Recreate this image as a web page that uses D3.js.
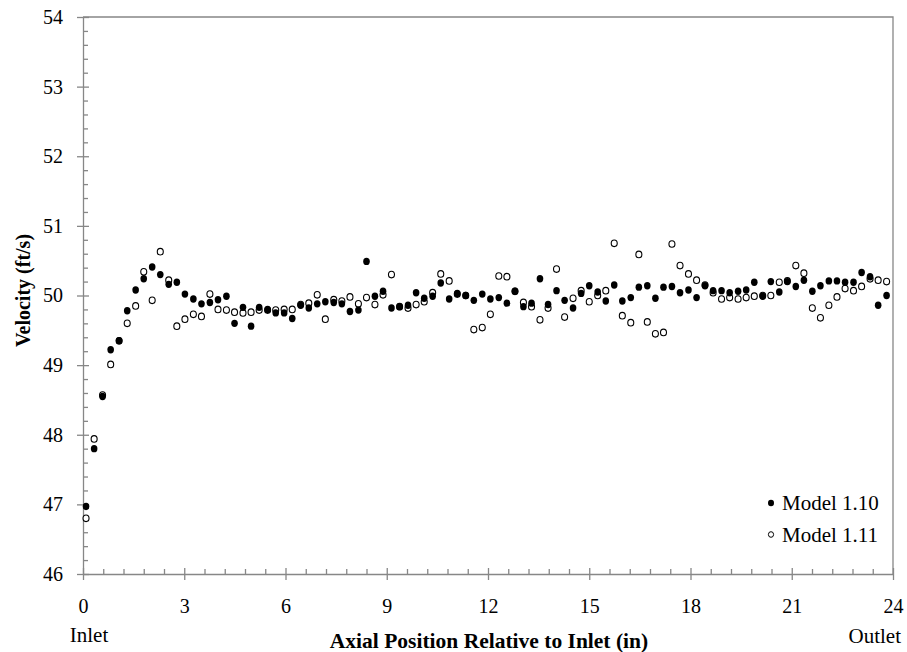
<!DOCTYPE html>
<html><head><meta charset="utf-8">
<script src="https://cdn.jsdelivr.net/npm/d3@7"></script>
<style>
html,body{margin:0;padding:0;background:#fff;}
</style></head>
<body><svg id="c" width="907" height="652"></svg>
<script>
const positions = [0.09,0.33,0.58,0.82,1.07,1.31,1.56,1.80,2.05,2.29,2.54,2.78,3.02,3.27,3.51,3.76,4.00,4.25,4.49,4.74,
4.98,5.22,5.47,5.71,5.96,6.20,6.45,6.69,6.94,7.18,7.43,7.67,7.91,8.16,8.40,8.65,8.89,9.14,9.38,9.63,
9.87,10.11,10.36,10.60,10.85,11.09,11.34,11.58,11.83,12.07,12.32,12.56,12.80,13.05,13.29,13.54,13.78,14.03,14.27,14.52,
14.76,15.00,15.25,15.49,15.74,15.98,16.23,16.47,16.72,16.96,17.20,17.45,17.69,17.94,18.18,18.43,18.67,18.92,19.16,19.41,
19.65,19.89,20.14,20.38,20.63,20.87,21.12,21.36,21.61,21.85,22.10,22.34,22.58,22.83,23.07,23.32,23.56,23.81];
const model110 = [46.97,47.80,48.55,49.22,49.35,49.78,50.08,50.24,50.41,50.30,50.16,50.19,50.02,49.95,49.88,49.90,49.94,49.99,49.60,49.83,
49.56,49.83,49.80,49.75,49.75,49.67,49.86,49.82,49.88,49.91,49.90,49.88,49.77,49.79,50.49,49.99,50.06,49.82,49.84,49.86,
50.04,49.96,49.99,50.18,49.95,50.03,50.00,49.93,50.02,49.95,49.97,49.89,50.06,49.84,49.89,50.24,49.87,50.07,49.93,49.82,
50.03,50.14,50.05,49.92,50.15,49.92,49.97,50.12,50.14,49.96,50.12,50.13,50.04,50.08,49.97,50.14,50.07,50.07,50.04,50.06,
50.08,50.19,49.99,50.20,50.05,50.20,50.13,50.22,50.06,50.14,50.21,50.21,50.19,50.19,50.33,50.27,49.86,50.00];
const model111 = [46.80,47.94,48.57,49.01,49.35,49.60,49.85,50.34,49.93,50.63,50.22,49.56,49.66,49.73,49.70,50.02,49.80,49.79,49.76,49.75,
49.76,49.79,49.79,49.79,49.80,49.80,49.87,49.89,50.01,49.66,49.94,49.92,49.98,49.88,49.97,49.87,50.01,50.30,49.84,49.82,
49.87,49.91,50.04,50.31,50.21,50.02,50.00,49.51,49.54,49.73,50.28,50.27,50.06,49.90,49.84,49.65,49.82,50.38,49.69,49.96,
50.07,49.91,50.00,50.07,50.75,49.71,49.61,50.59,49.62,49.45,49.47,50.74,50.43,50.31,50.22,50.15,50.04,49.95,49.97,49.95,
49.97,49.99,50.00,50.00,50.19,50.21,50.43,50.32,49.82,49.68,49.86,49.98,50.10,50.07,50.13,50.24,50.22,50.20];
const xTicks = [0,3,6,9,12,15,18,21,24];
const yTicks = [46,47,48,49,50,51,52,53,54];
const seriesNames = ["Model 1.10","Model 1.11"];

const FONT = "'Liberation Serif','Times New Roman',Times,serif";
const svg = d3.select("#c");
const L=83,R=893,T=17,B=574;
const x = d3.scaleLinear().domain([0,24]).range([L,R]);
const y = d3.scaleLinear().domain([46,54]).range([B,T]);
const axisCol = "#878787";

svg.append("path").attr("d",`M${L},${T}H${R}V${B}`).attr("fill","none").attr("stroke",axisCol).attr("stroke-width",1.3);

const xMinor = d3.range(0,24.001,0.6).filter(v=>Math.abs(v/3-Math.round(v/3))>1e-6);
const yMinor = d3.range(46,54.001,0.2).filter(v=>Math.abs(v-Math.round(v))>1e-6);
function styleAxis(g){g.selectAll("path,line").attr("stroke",axisCol).attr("stroke-width",1.3);}

svg.append("g").attr("transform",`translate(0,${B})`)
  .call(d3.axisBottom(x).tickValues(xMinor).tickSize(-5).tickSizeOuter(0).tickFormat(""))
  .call(styleAxis).call(g=>g.select(".domain").remove());
svg.append("g").attr("transform",`translate(${L},0)`)
  .call(d3.axisLeft(y).tickValues(yMinor).tickSize(-5).tickSizeOuter(0).tickFormat(""))
  .call(styleAxis).call(g=>g.select(".domain").remove());
svg.append("g").attr("transform",`translate(0,${B})`)
  .call(d3.axisBottom(x).tickValues(xTicks).tickSize(-6).tickSizeOuter(0).tickFormat(""))
  .call(styleAxis).call(g=>g.select(".domain").remove());
svg.append("g").attr("transform",`translate(${L},0)`)
  .call(d3.axisLeft(y).tickValues(yTicks).tickSize(-6).tickSizeOuter(0).tickFormat(""))
  .call(styleAxis).call(g=>g.select(".domain").remove());
svg.append("g").attr("transform",`translate(0,${B})`)
  .call(d3.axisBottom(x).tickValues(xTicks).tickSize(6).tickSizeOuter(0).tickPadding(19).tickFormat(d3.format("d")))
  .call(styleAxis)
  .call(g=>g.selectAll("text").style("font-size","20px").style("font-family",FONT).attr("fill","#000"));
svg.append("g").attr("transform",`translate(${L},0)`)
  .call(d3.axisLeft(y).tickValues(yTicks).tickSize(6).tickSizeOuter(0).tickPadding(14).tickFormat(d3.format("d")))
  .call(styleAxis)
  .call(g=>g.selectAll("text").style("font-size","20px").style("font-family",FONT).attr("fill","#000"));

const d111 = positions.map((p,i)=>({x:p,v:model111[i]}));
const d110 = positions.map((p,i)=>({x:p,v:model110[i]}));
svg.append("g").selectAll("ellipse").data(d111).join("ellipse")
  .attr("cx",d=>x(d.x)).attr("cy",d=>y(d.v)).attr("rx",3).attr("ry",3.3)
  .attr("fill","#fff").attr("stroke","#000").attr("stroke-width",1.1);
svg.append("g").selectAll("ellipse").data(d110).join("ellipse")
  .attr("cx",d=>x(d.x)).attr("cy",d=>y(d.v)).attr("rx",3.3).attr("ry",3.7)
  .attr("fill","#000");

function txt(xp,yp,s,size,anchor,bold){
  return svg.append("text").attr("x",xp).attr("y",yp).attr("text-anchor",anchor||"start")
    .style("font-family",FONT).style("font-size",size+"px").style("font-weight",bold?"bold":"normal")
    .attr("fill","#000").text(s);
}
svg.append("ellipse").attr("cx",771).attr("cy",503).attr("rx",3).attr("ry",3.3).attr("fill","#000");
txt(782,510,seriesNames[0],21);
svg.append("ellipse").attr("cx",771).attr("cy",534.5).attr("rx",2.6).attr("ry",2.8).attr("fill","#fff").attr("stroke","#000").attr("stroke-width",1);
txt(782,541.5,seriesNames[1],21);

txt(89,642,"Inlet",21,"middle");
txt(901,643,"Outlet",21,"end");
txt(489,648,"Axial Position Relative to Inlet (in)",21.5,"middle",true);
txt(0,0,"Velocity (ft/s)",20,"middle",true).attr("transform",`translate(30,${(T+B)/2-5}) rotate(-90)`);
</script></body></html>
